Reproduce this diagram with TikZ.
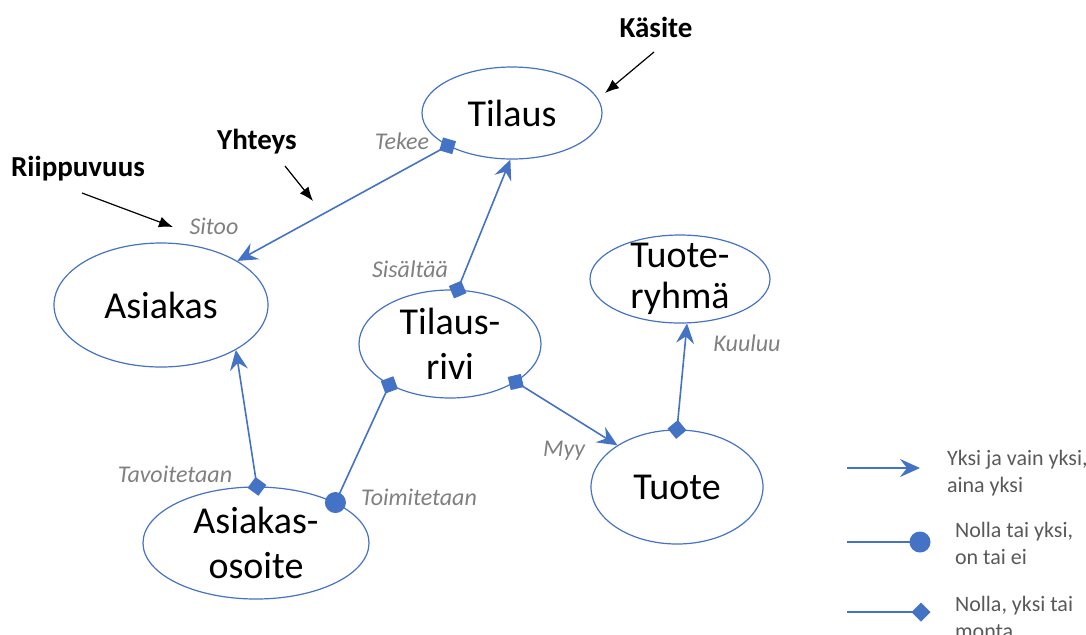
\documentclass[tikz,border=0pt]{standalone}
\usepackage{fontspec}
\setmainfont{Carlito}
\usetikzlibrary{arrows.meta,shapes.geometric}

\definecolor{linkblue}{RGB}{68,114,196}
\definecolor{relgray}{RGB}{128,128,128}
\definecolor{legendgray}{RGB}{89,89,89}

\begin{document}
\begin{tikzpicture}[
    x=0.5pt, y=-0.5pt,
    yksi/.tip={Stealth[length=10pt,width=9pt,inset=3.5pt]},
    monta/.tip={Turned Square[length=9.5pt,width=9.5pt]},
    nolla/.tip={Circle[length=10.5pt]},
    concept/.style={ellipse, draw=linkblue, line width=0.6pt, inner sep=-8pt,
        align=center, font=\fontsize{19}{22.5}\selectfont},
    link/.style={linkblue, line width=0.8pt},
    frommonta/.style={shorten <=-4.75pt},
    rel/.style={text=relgray, font=\fontsize{12}{14}\selectfont\itshape},
    callout/.style={font=\fontsize{14.5}{17}\selectfont\bfseries},
    callarrow/.style={black, line width=0.6pt, -{Latex[length=7pt,width=5.5pt]}},
    legendtext/.style={anchor=west, align=left, text=legendgray,
        font=\fontsize{11}{13.5}\selectfont}
]
\useasboundingbox (0,0) rectangle (1086,634);

% kasitteet
\node[concept, minimum width=90pt, minimum height=46pt] (tilaus) at (512,113) {Tilaus};
\node[concept, minimum width=107pt, minimum height=62pt] (asiakas) at (161,305) {Asiakas};
\node[concept, minimum width=91pt, minimum height=54pt] (rivi) at (450,344) {Tilaus-\\rivi};
\node[concept, minimum width=90pt, minimum height=44pt,
    font=\fontsize{19}{20.5}\selectfont] (ryhma) at (680,279) {Tuote-\\ryhmä};
\node[concept, minimum width=86pt, minimum height=57pt] (tuote) at (677,487) {Tuote};
\node[concept, minimum width=113pt, minimum height=56pt] (osoite) at (256,543) {Asiakas-\\osoite};

% yhteydet
\draw[link, monta-yksi, frommonta] (tilaus.207) -- (asiakas.30);
\draw[link, monta-yksi, frommonta] (rivi.82) -- (tilaus.268);
\draw[link, monta-yksi, frommonta] (osoite.89) -- (asiakas.329);
\draw[link, nolla-monta, shorten <=-5.25pt, shorten >=-4.75pt] (osoite.27) -- (rivi.214);
\draw[link, monta-yksi, frommonta] (rivi.330) -- (tuote.145);
\draw[link, monta-yksi, frommonta] (tuote.90) -- (ryhma.279);

% yhteyksien nimet
\node[rel] (tekee) at (402,141) {Tekee};
\node[rel] (sitoo) at (214,226) {Sitoo};
\node[rel] (sisaltaa) at (410,269) {Sisältää};
\node[rel] (tavoitetaan) at (175,474) {Tavoitetaan};
\node[rel] (toimitetaan) at (419,497) {Toimitetaan};
\node[rel] (myy) at (564,451) {Myy};
\node[rel] (kuuluu) at (747,343) {Kuuluu};

% selitteet
\node[callout] (kasite) at (656,27) {Käsite};
\node[callout] (yhteys) at (257,142) {Yhteys};
\node[callout] (riippuvuus) at (78,169) {Riippuvuus};
\coordinate (kasite-a) at (654,52);
\coordinate (kasite-b) at (605,93);
\coordinate (yhteys-a) at (285,166);
\coordinate (yhteys-b) at (313,201);
\coordinate (riip-a) at (82,193);
\coordinate (riip-b) at (173,227);
\draw[callarrow] (kasite-a) -- (kasite-b);
\draw[callarrow] (yhteys-a) -- (yhteys-b);
\draw[callarrow] (riip-a) -- (riip-b);

% merkkien selitys
\coordinate (leg1a) at (847,468);
\coordinate (leg1b) at (920,468);
\coordinate (leg2a) at (847,542);
\coordinate (leg2b) at (920,542);
\coordinate (leg3a) at (847,612);
\coordinate (leg3b) at (921,612);
\draw[link, -yksi] (leg1a) -- (leg1b);
\draw[link, -nolla, shorten >=-5.25pt] (leg2a) -- (leg2b);
\draw[link, -monta, shorten >=-4.75pt] (leg3a) -- (leg3b);
\node[legendtext] (leg1) at (940,473) {Yksi ja vain yksi,\\aina yksi};
\node[legendtext] (leg2) at (948,543) {Nolla tai yksi,\\on tai ei};
\node[legendtext] (leg3) at (948,617) {Nolla, yksi tai\\monta};

\end{tikzpicture}
\end{document}
